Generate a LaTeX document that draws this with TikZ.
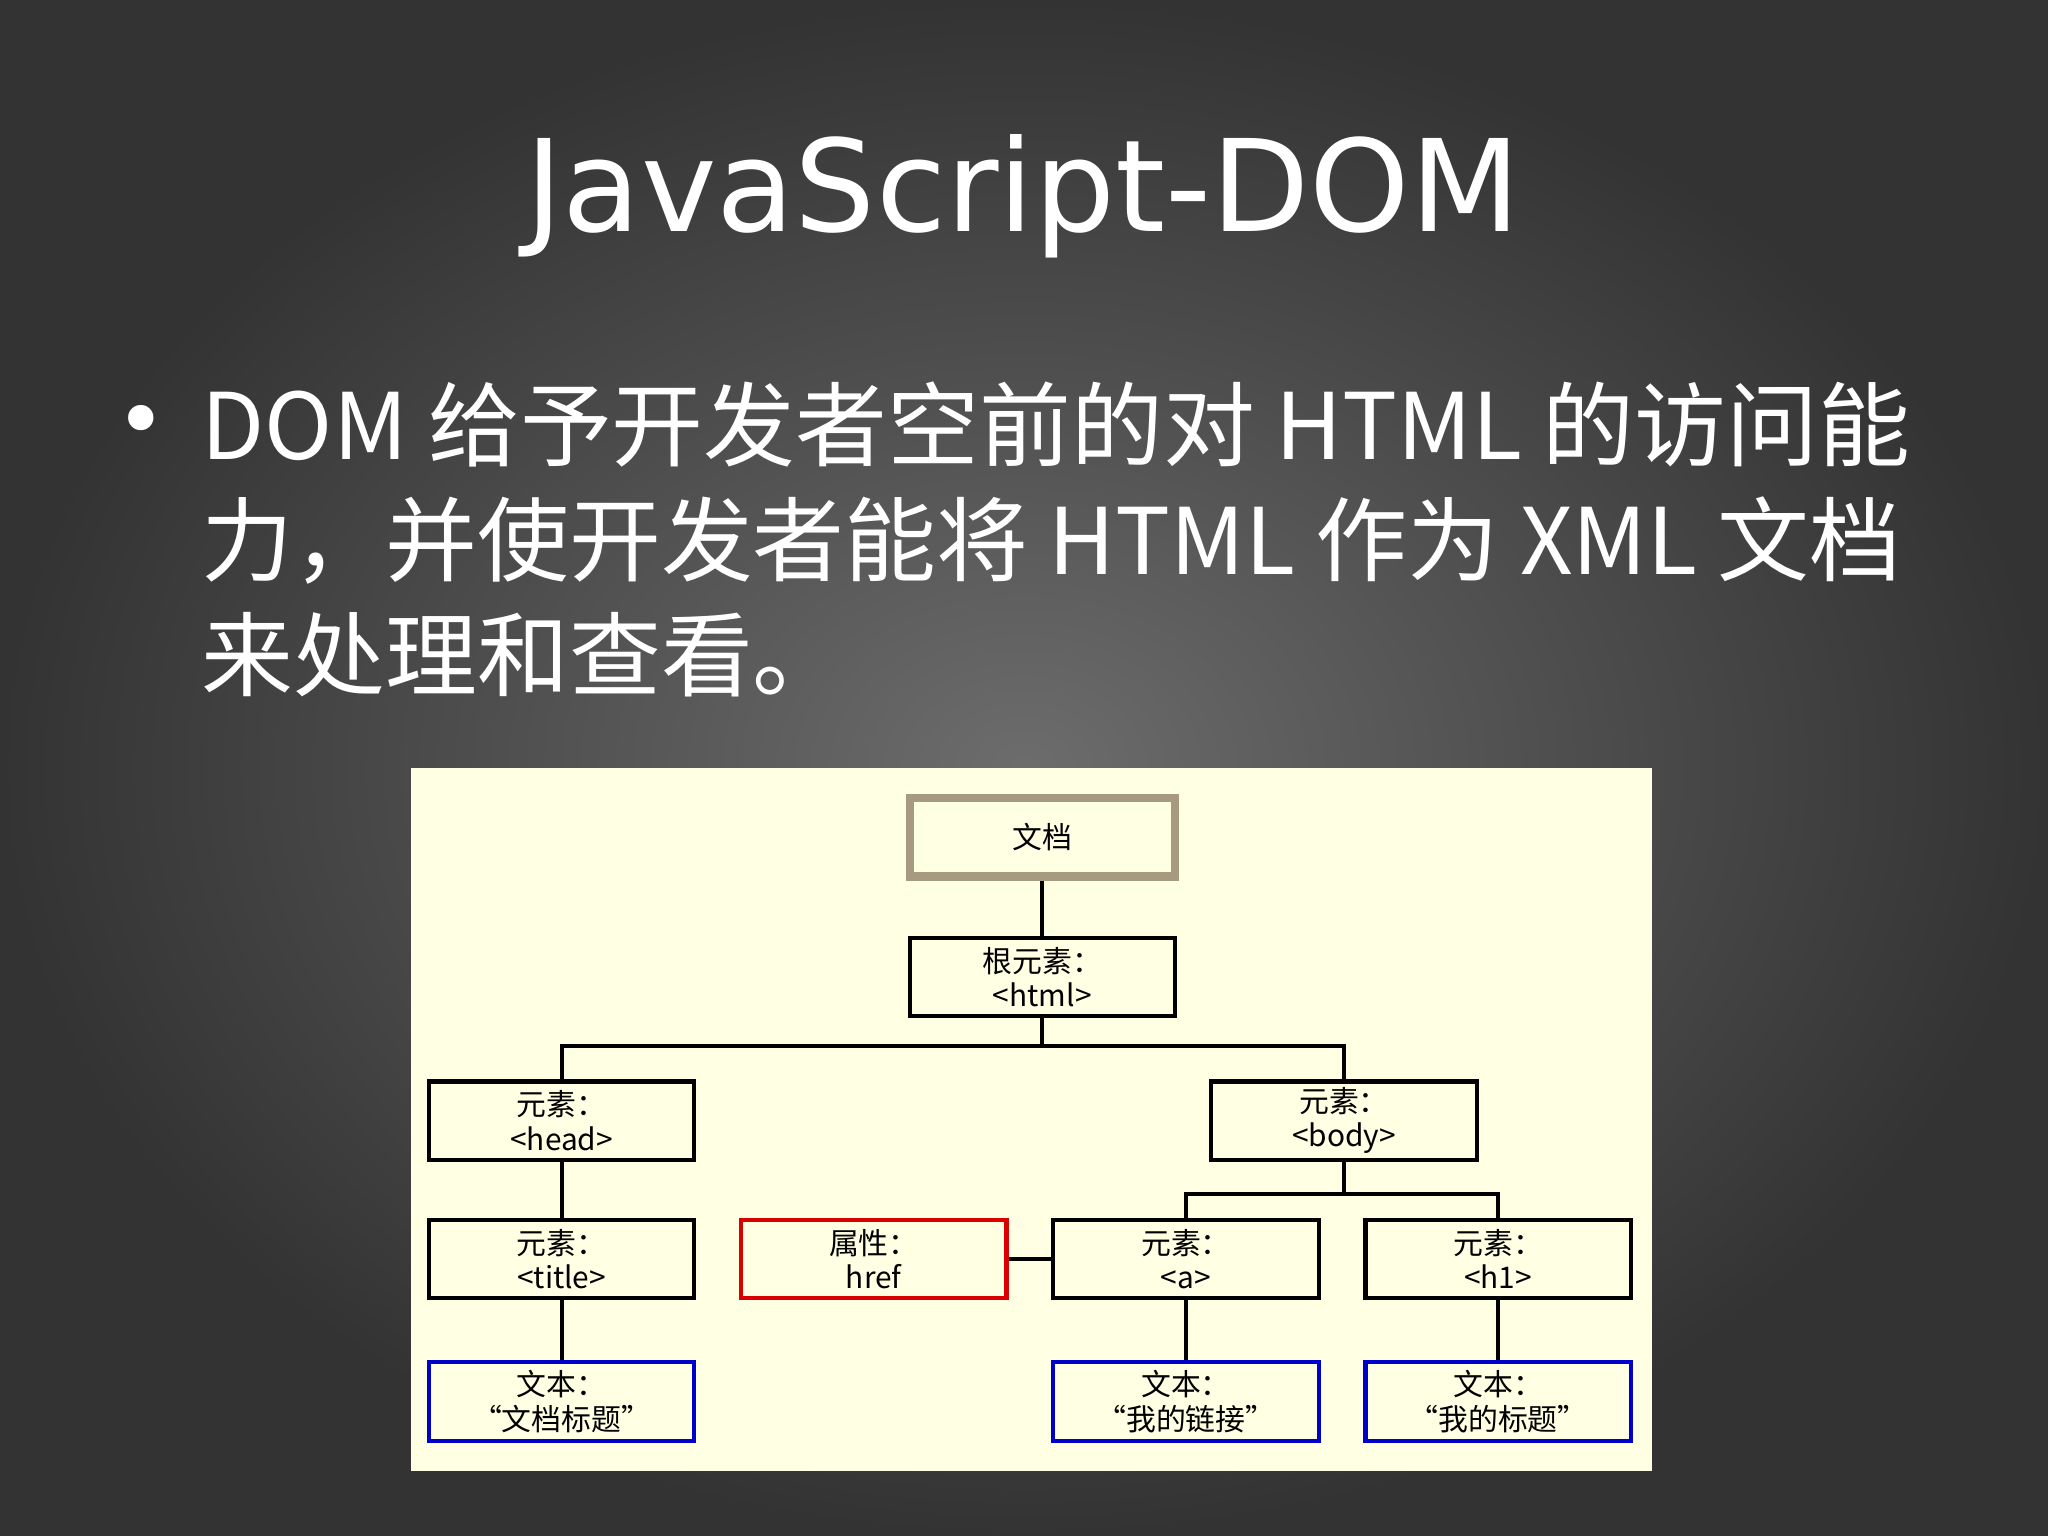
\documentclass[tikz,border=0pt]{standalone}
\usepackage{fontspec}
\setmainfont{DejaVu Sans}
\newfontfamily\cjk{Noto Sans CJK SC}
\usetikzlibrary{positioning, calc}
\definecolor{panel}{HTML}{FFFFE3}
\definecolor{tan}{HTML}{A89A80}

\begin{document}
\begin{tikzpicture}[x=0.01cm, y=-0.01cm,
    box/.style={rectangle, draw=black, line width=0.9pt, fill=panel, minimum width=2.03cm,
                minimum height=0.6cm, align=center, inner sep=0pt,
                font=\cjk\fontsize{6.5}{7.5}\selectfont},
    attr/.style={box, draw=red!85!black},
    txt/.style={box, draw=blue!80!black},
    link/.style={line width=0.9pt}
]
    % Background
    \shade[inner color=gray!85!black, outer color=black!80] (0,0) rectangle (1568,1176);
    \useasboundingbox (0,0) rectangle (1568,1176);

    % Title and bullet text
    \node[white, font=\fontsize{27.8}{33}\selectfont] (head) at (783,150) {JavaScript-DOM};
    \node[white, font=\fontsize{19}{24}\selectfont] (dot) at (108,328) {•};
    \node[white, anchor=west, align=left, font=\cjk\fontsize{20}{25}\selectfont] (bullet) at (142,413)
      {DOM 给予开发者空前的对 HTML 的访问能\\力，并使开发者能将 HTML 作为 XML 文档\\来处理和查看。};

    % Panel
    \fill[panel] (315,588) rectangle (1265,1126);

    % Nodes
    \node[box, draw=tan, line width=1.8pt] (doc) at (798,641) {文档};
    \node[box] (html) at (798,748) {根元素：\\<html>};
    \node[box] (headel) at (430,858) {元素：\\<head>};
    \node[box] (body) at (1029,858) {元素：\\<body>};
    \node[box] (title) at (430,964) {元素：\\<title>};
    \node[attr] (href) at (669,964) {属性：\\href};
    \node[box] (a) at (908,964) {元素：\\<a>};
    \node[box] (h1) at (1147,964) {元素：\\<h1>};
    \node[txt] (t1) at (430,1073) {文本：\\“文档标题”};
    \node[txt] (t2) at (908,1073) {文本：\\“我的链接”};
    \node[txt] (t3) at (1147,1073) {文本：\\“我的标题”};

    % Connectors
    \coordinate (j1) at (798,801);
    \coordinate (j2) at (1029,914);
    \draw[link] (doc) -- (html);
    \draw[link] (html) -- (j1);
    \draw[link] (j1) -| (headel);
    \draw[link] (j1) -| (body);
    \draw[link] (headel) -- (title);
    \draw[link] (title) -- (t1);
    \draw[link] (body) -- (j2);
    \draw[link] (j2) -| (a);
    \draw[link] (j2) -| (h1);
    \draw[link] (href) -- (a);
    \draw[link] (a) -- (t2);
    \draw[link] (h1) -- (t3);
\end{tikzpicture}
\end{document}
